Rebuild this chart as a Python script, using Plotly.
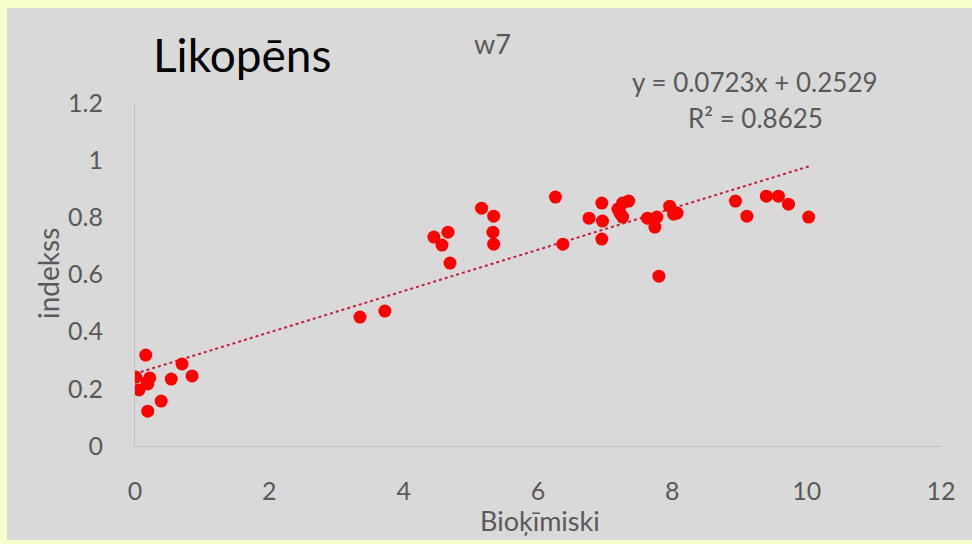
import plotly.graph_objects as go

biokimiski = [0.01, 0.06, 0.16, 0.18, 0.22, 0.19, 0.54, 0.70, 0.85, 0.39, 0.19,
              3.35, 3.72, 4.45, 4.66, 4.57, 4.69, 5.16, 5.34, 5.33, 5.34,
              6.26, 6.37, 6.76, 6.95, 6.96, 6.95, 7.19, 7.26, 7.35, 7.26, 7.22,
              7.63, 7.77, 7.74, 7.80, 7.96, 8.07, 8.02,
              8.94, 9.11, 9.40, 9.58, 9.73, 10.03]
indekss = [0.241, 0.196, 0.318, 0.224, 0.238, 0.217, 0.234, 0.287, 0.245, 0.157, 0.122,
           0.451, 0.472, 0.731, 0.748, 0.703, 0.640, 0.832, 0.804, 0.748, 0.706,
           0.871, 0.706, 0.797, 0.850, 0.787, 0.724, 0.829, 0.850, 0.857, 0.801, 0.815,
           0.797, 0.801, 0.766, 0.594, 0.839, 0.815, 0.811,
           0.857, 0.804, 0.874, 0.874, 0.846, 0.801]

slope = 0.0723
intercept = 0.2529
r2 = 0.8625

x_ticks = [0, 2, 4, 6, 8, 10, 12]
y_ticks = [0, 0.2, 0.4, 0.6, 0.8, 1, 1.2]
y_tick_labels = ["0", "0.2", "0.4", "0.6", "0.8", "1", "1.2"]

FONT = "Lato"
GRAY = "#595959"

fig = go.Figure()

trend_x = [0, max(biokimiski)]
trend_y = [slope * v + intercept for v in trend_x]
fig.add_trace(go.Scatter(x=trend_x, y=trend_y, mode="lines",
                         line=dict(color="#c0203a", width=2, dash="dot"),
                         hoverinfo="skip", showlegend=False))
fig.add_trace(go.Scatter(x=biokimiski, y=indekss, mode="markers",
                         marker=dict(color="#ff0000", size=13, line=dict(width=0)),
                         showlegend=False))

L, R, T, B = 135, 31, 103, 98
W, H = 972, 544
pw, ph = W - L - R, H - T - B

def px(xp):
    return (xp - L) / pw

def py(yp):
    return (H - B - yp) / ph

fig.add_shape(type="rect", xref="paper", yref="paper",
              x0=px(7), x1=px(975), y0=py(540), y1=py(8),
              fillcolor="#d9d9d9", line=dict(width=0), layer="below")

fig.update_layout(
    width=W, height=H,
    margin=dict(l=L, r=R, t=T, b=B, pad=0),
    paper_bgcolor="#f9ffcc",
    plot_bgcolor="#d9d9d9",
    font=dict(family=FONT, color=GRAY, size=24),
    xaxis=dict(range=[0, 12], tickvals=x_ticks, showgrid=False, zeroline=False,
               showline=True, linecolor="#bfbfbf", linewidth=1,
               ticks="", tickfont=dict(size=25, color=GRAY, family=FONT),
               ticklabelstandoff=23, fixedrange=True),
    yaxis=dict(range=[0, 1.2], tickvals=y_ticks, ticktext=y_tick_labels,
               showgrid=False, zeroline=False,
               showline=True, linecolor="#bfbfbf", linewidth=1,
               ticks="", tickfont=dict(size=25, color=GRAY, family=FONT),
               ticklabelstandoff=26, fixedrange=True),
    showlegend=False,
)

annos = [
    dict(text="Likopēns", x=px(242), y=py(55), font=dict(size=46, color="#000000", family=FONT)),
    dict(text="w7", x=px(492), y=py(44), font=dict(size=27, color=GRAY, family=FONT)),
    dict(text=f"y = {slope}x + {intercept}", x=px(755), y=py(82), font=dict(size=26, color=GRAY, family=FONT)),
    dict(text=f"R² = {r2}", x=px(755), y=py(118), font=dict(size=26, color=GRAY, family=FONT)),
    dict(text="Bioķīmiski", x=px(540), y=py(520), font=dict(size=27, color=GRAY, family=FONT)),
    dict(text="indekss", x=px(48), y=py(274), textangle=-90, font=dict(size=28, color=GRAY, family=FONT)),
]
for a in annos:
    fig.add_annotation(xref="paper", yref="paper", showarrow=False,
                       xanchor="center", yanchor="middle", **a)

fig.write_html("out.html")
